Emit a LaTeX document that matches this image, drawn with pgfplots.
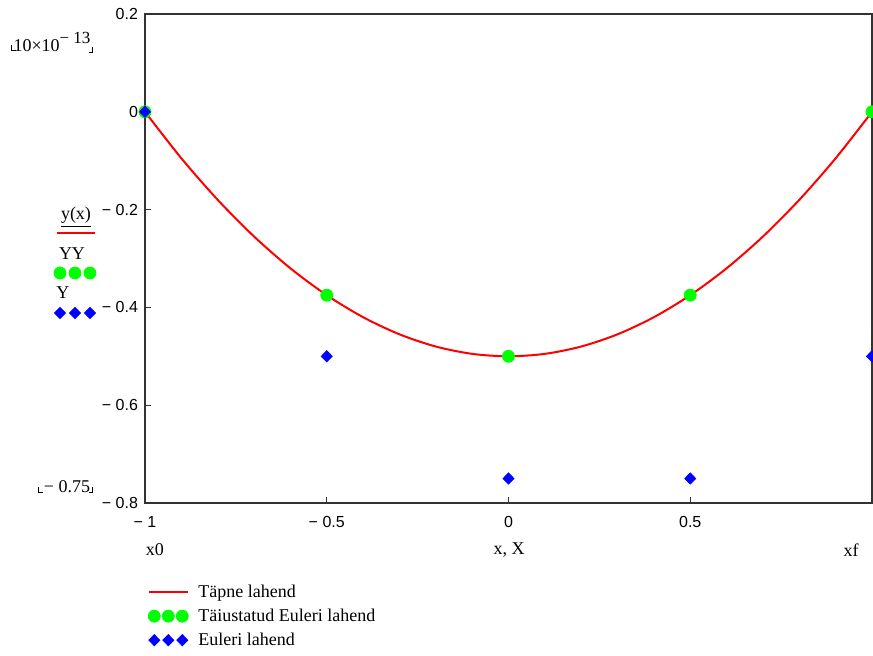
\documentclass[border=0pt]{standalone}
\usepackage{pgfplots}
\pgfplotsset{compat=1.18}
\usepackage{fontspec}
\setmainfont{Liberation Serif}
\newfontfamily\tickfont{Liberation Sans}
\definecolor{mcred}{RGB}{255,0,0}
\definecolor{mcgreen}{RGB}{0,255,0}
\definecolor{mcblue}{RGB}{0,0,255}
\pgfplotsset{
  linekey/.style={legend image code/.code={\path[draw=none,fill=none] (0pt,0pt) -- (23pt,0pt);
      \draw[##1] (0pt,0pt) -- (19.5pt,0pt);}},
  threemarks/.style={legend image code/.code={\path[draw=none,fill=none] (0pt,0pt) -- (23pt,0pt);
      \draw[##1] plot coordinates {(2.5pt,0pt) (9.5pt,0pt) (16.5pt,0pt)};}},
}

\begin{document}
\begin{tikzpicture}
\path[use as bounding box] (-72.5pt,-76pt) rectangle (364pt,251.5pt);
\begin{axis}[
  at={(0,0)}, anchor=south west,
  scale only axis, width=363.5pt, height=244.5pt,
  xmin=-1, xmax=1, ymin=-0.8, ymax=0.2,
  xtick={-1,-0.5,0,0.5}, xticklabels={− 1,− 0.5,0,0.5},
  ytick={-0.8,-0.6,-0.4,-0.2,0,0.2},
  yticklabels={− 0.8,− 0.6,− 0.4,− 0.2,0,0.2},
  xtick pos=bottom, ytick pos=left, tick align=inside,
  major tick length=3pt,
  axis line style={line width=0.6pt, black!80},
  tick style={black!80, line width=0.6pt},
  ticklabel style={font=\tickfont\fontsize{8}{9}\selectfont},
  xticklabel style={yshift=-3pt},
  legend style={at={(0.004,-0.157)}, anchor=north west, draw=none, fill=none,
    font=\fontsize{9}{10}\selectfont, row sep=0pt, inner sep=0pt,
    nodes={text height=7pt, text depth=2pt, inner sep=1.5pt}},
  legend cell align=left,
]
% exact solution
\addplot[mcred, line width=1pt, smooth, linekey]
  coordinates {(-1,0) (-0.9,-0.095) (-0.8,-0.18) (-0.7,-0.255) (-0.6,-0.32)
    (-0.5,-0.375) (-0.4,-0.42) (-0.3,-0.455) (-0.2,-0.48) (-0.1,-0.495) (0,-0.5)
    (0.1,-0.495) (0.2,-0.48) (0.3,-0.455) (0.4,-0.42) (0.5,-0.375) (0.6,-0.32)
    (0.7,-0.255) (0.8,-0.18) (0.9,-0.095) (1,0)};
\addlegendentry{Täpne lahend}
% improved Euler
\addplot[only marks, mark=*, mark size=3pt, mcgreen, threemarks]
  coordinates {(-1,0) (-0.5,-0.375) (0,-0.5) (0.5,-0.375) (1,0)};
\addlegendentry{Täiustatud Euleri lahend}
% Euler
\addplot[only marks, mark=diamond*, mark size=2.8pt, mark options={xscale=1.3}, mcblue, threemarks]
  coordinates {(-1,0) (-0.5,-0.5) (0,-0.75) (0.5,-0.75) (1,-0.5)};
\addlegendentry{Euleri lahend}
\end{axis}

\begin{scope}[font=\fontsize{9}{10}\selectfont]
% range placeholders
\node at (-46.5pt,230.5pt) {10×10\raisebox{4pt}{\fontsize{8.5}{9}\selectfont − 13}};
\draw[line width=0.5pt] (-66.5pt,229pt) -- (-66.5pt,226.5pt) -- (-64.5pt,226.5pt);
\draw[line width=0.5pt] (-26pt,228pt) -- (-26pt,225.5pt) -- (-28pt,225.5pt);
\node at (-39pt,8pt) {− 0.75};
\draw[line width=0.5pt] (-53pt,8pt) -- (-53pt,5.5pt) -- (-51pt,5.5pt);
\draw[line width=0.5pt] (-26pt,8pt) -- (-26pt,5.5pt) -- (-28pt,5.5pt);
% axis names
\node at (5pt,-23.5pt) {x0};
\node at (182pt,-23.5pt) {x, X};
\node at (353pt,-23.5pt) {xf};
% y-axis key
\node at (-34.5pt,143pt) {\underline{y(x)}};
\draw[mcred, line width=1pt] (-44pt,135pt) -- (-25pt,135pt);
\node at (-36.5pt,124.5pt) {YY};
\path[mcgreen, mark=*, mark size=3pt] plot coordinates {(-42.5pt,115pt) (-35pt,115pt) (-27.5pt,115pt)};
\node at (-41pt,105pt) {Y};
\path[mcblue, mark=diamond*, mark size=2.8pt, mark options={xscale=1.3}] plot coordinates {(-42.5pt,95pt) (-35pt,95pt) (-27.5pt,95pt)};
\end{scope}
\end{tikzpicture}
\end{document}
